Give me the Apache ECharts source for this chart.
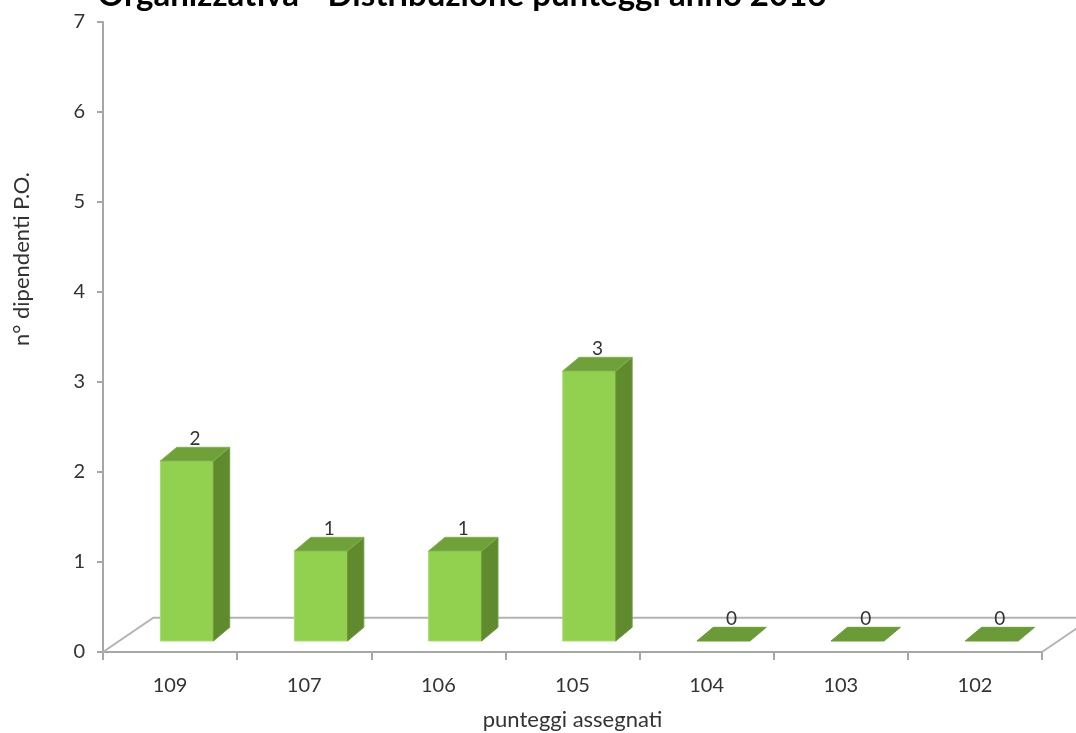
<!DOCTYPE html>
<html>
<head>
<meta charset="utf-8">
<script src="https://cdn.jsdelivr.net/npm/echarts@6/dist/echarts.min.js"></script>
<style>html,body{margin:0;padding:0;background:#fff}#c{width:1076px;height:733px}</style>
</head>
<body>
<div id="c"></div>
<script>
var titleText = 'Organizzativa - Distribuzione punteggi anno 2016';
var categories = ['109', '107', '106', '105', '104', '103', '102'];
var values = [2, 1, 1, 3, 0, 0, 0];
var yTicks = [0, 1, 2, 3, 4, 5, 6, 7];
var xName = 'punteggi assegnati';
var yName = 'n° dipendenti P.O.';

var FONT = 'Lato, "Open Sans", sans-serif';
var chart = echarts.init(document.getElementById('c'));

function geom(api) {
  var band = api.size([1, 0])[0];
  return {
    band: band,
    w: band * 0.395,
    fx: band * 0.125, fy: -band * 0.082,
    dx: band * 0.122, dy: -band * 0.102,
    floorDx: band * 0.375, floorDy: -band * 0.255
  };
}

function renderBar(params, api) {
  var idx = api.value(0), v = api.value(1);
  var g = geom(api);
  var base = api.coord([idx, 0]);
  var top = api.coord([idx, v]);
  var xl = base[0] + g.fx - g.w / 2, xr = xl + g.w;
  var yb = base[1] + g.fy, yt = top[1] + g.fy;
  var children = [];
  if (v > 0) {
    children.push({type: 'rect', shape: {x: xl, y: yt, width: g.w, height: yb - yt},
      style: {fill: '#92d050', stroke: '#a6dc6c', lineWidth: 1}});
    children.push({type: 'polygon', shape: {points: [[xr, yt], [xr + g.dx, yt + g.dy], [xr + g.dx, yb + g.dy], [xr, yb]]},
      style: {fill: '#5f8b2e', stroke: '#6f9b3c', lineWidth: 1}});
  }
  children.push({type: 'polygon', shape: {points: [[xl, yt], [xl + g.dx, yt + g.dy], [xr + g.dx, yt + g.dy], [xr, yt]]},
    style: {fill: v > 0 ? '#70a03a' : '#6b9b38', stroke: v > 0 ? '#82b24c' : '#6b9b38', lineWidth: 1}});
  children.push({type: 'text', style: {text: String(v), x: (xl + xr) / 2 + g.dx / 2, y: yt + g.dy + 1,
    textAlign: 'center', textVerticalAlign: 'bottom', fill: '#333333', font: '19px ' + FONT}});
  return {type: 'group', children: children};
}

function renderFloor(params, api) {
  var g = geom(api);
  var first = api.coord([0, 0]);
  var last = api.coord([categories.length - 1, 0]);
  var L = first[0] - g.band / 2, R = last[0] + g.band / 2, y0 = first[1];
  return {type: 'polyline', shape: {points: [[L, y0], [L + g.floorDx, y0 + g.floorDy], [R + g.floorDx, y0 + g.floorDy], [R, y0]]},
    style: {fill: null, stroke: '#b3b3b3', lineWidth: 2}, z2: 0};
}

var option = {
  backgroundColor: '#ffffff',
  animation: false,
  grid: {left: 103, right: 34, top: 22, bottom: 81, containLabel: false, outerBoundsMode: 'none'},
  xAxis: {
    type: 'category', data: categories,
    name: xName, nameLocation: 'middle', nameGap: 57,
    nameTextStyle: {fontFamily: FONT, fontSize: 22, color: '#333333'},
    axisLine: {show: true, lineStyle: {color: '#a6a6a6', width: 2}},
    axisTick: {show: true, length: 8, lineStyle: {color: '#a6a6a6', width: 2}},
    axisLabel: {fontFamily: FONT, fontSize: 20, color: '#333333', margin: 24}
  },
  yAxis: {
    type: 'value', min: 0, max: 7, interval: 1,
    axisLine: {show: true, lineStyle: {color: '#a6a6a6', width: 2}},
    axisTick: {show: true, length: 6, lineStyle: {color: '#a6a6a6', width: 2}},
    splitLine: {show: false},
    axisLabel: {fontFamily: FONT, fontSize: 20, color: '#333333', margin: 18,
      formatter: function (v) { return yTicks.indexOf(v) >= 0 ? String(v) : ''; }}
  },
  graphic: [
    {type: 'text', x: 462, y: 12, style: {text: titleText, textAlign: 'center', textVerticalAlign: 'bottom',
      font: 'bold 33px ' + FONT, fill: '#000000'}},
    {type: 'text', x: 22, y: 259, rotation: Math.PI / 2, style: {text: yName, textAlign: 'center', textVerticalAlign: 'middle',
      font: '22px ' + FONT, fill: '#333333'}}
  ],
  series: [
    {type: 'custom', renderItem: renderFloor, data: [[0, 0]], z: 1, silent: true},
    {type: 'custom', renderItem: renderBar, data: values.map(function (v, i) { return [i, v]; }), z: 2,
      encode: {x: 0, y: 1}}
  ]
};
chart.setOption(option);
</script>
</body>
</html>
